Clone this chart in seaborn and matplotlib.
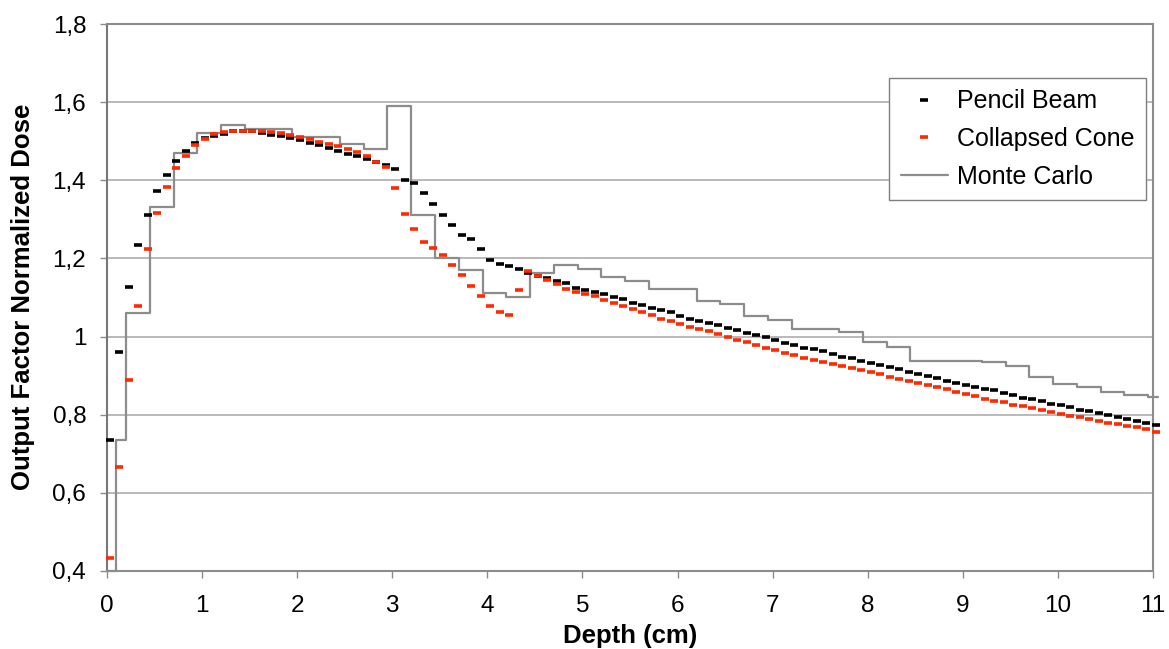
import numpy as np
import pandas as pd
import matplotlib
matplotlib.use("Agg")
import matplotlib.pyplot as plt
from matplotlib.ticker import FixedLocator, FuncFormatter
import seaborn as sns

# depth grid of the two calculated curves (cm), one point every mm
depth = np.round(0.03 + 0.1 * np.arange(111), 2)

pencil_beam = [
    0.735, 0.961, 1.126, 1.235, 1.310, 1.373, 1.413, 1.450, 1.476, 1.496,
    1.508, 1.514, 1.519, 1.525, 1.527, 1.525, 1.521, 1.516, 1.513, 1.507,
    1.502, 1.496, 1.490, 1.483, 1.476, 1.468, 1.462, 1.455, 1.448, 1.440,
    1.429, 1.402, 1.394, 1.367, 1.339, 1.312, 1.286, 1.259, 1.249, 1.223,
    1.197, 1.187, 1.180, 1.173, 1.162, 1.156, 1.149, 1.143, 1.137, 1.125,
    1.120, 1.114, 1.108, 1.101, 1.095, 1.086, 1.080, 1.074, 1.067, 1.062,
    1.053, 1.046, 1.041, 1.035, 1.029, 1.023, 1.016, 1.008, 1.003, 0.998,
    0.992, 0.984, 0.978, 0.972, 0.968, 0.962, 0.956, 0.948, 0.944, 0.938,
    0.933, 0.927, 0.921, 0.916, 0.910, 0.904, 0.899, 0.894, 0.887, 0.882,
    0.876, 0.871, 0.867, 0.862, 0.855, 0.850, 0.844, 0.840, 0.835, 0.828,
    0.824, 0.819, 0.813, 0.809, 0.804, 0.799, 0.794, 0.790, 0.785, 0.780,
    0.774,
]

collapsed_cone = [
    0.434, 0.667, 0.889, 1.079, 1.225, 1.316, 1.382, 1.432, 1.462, 1.491,
    1.505, 1.519, 1.523, 1.526, 1.527, 1.527, 1.526, 1.523, 1.520, 1.515,
    1.510, 1.505, 1.499, 1.493, 1.487, 1.480, 1.472, 1.462, 1.448, 1.433,
    1.379, 1.315, 1.275, 1.242, 1.226, 1.209, 1.183, 1.157, 1.130, 1.103,
    1.077, 1.063, 1.054, 1.120, 1.168, 1.156, 1.144, 1.135, 1.122, 1.113,
    1.108, 1.103, 1.094, 1.086, 1.078, 1.071, 1.063, 1.054, 1.046, 1.040,
    1.032, 1.025, 1.019, 1.013, 1.006, 1.000, 0.992, 0.986, 0.979, 0.970,
    0.965, 0.958, 0.952, 0.946, 0.940, 0.935, 0.930, 0.925, 0.919, 0.914,
    0.909, 0.903, 0.897, 0.892, 0.886, 0.881, 0.876, 0.870, 0.865, 0.859,
    0.853, 0.847, 0.841, 0.836, 0.832, 0.826, 0.822, 0.817, 0.813, 0.807,
    0.803, 0.797, 0.794, 0.790, 0.785, 0.780, 0.776, 0.772, 0.768, 0.764,
    0.757,
]

# Monte Carlo histogram: left bin edges and bin values (step curve)
mc_edges = [
    0.0, 0.1, 0.2, 0.45, 0.7, 0.95, 1.2, 1.45, 1.7, 1.95,
    2.2, 2.45, 2.7, 2.95, 3.2, 3.45, 3.7, 3.95, 4.2, 4.45,
    4.7, 4.95, 5.2, 5.45, 5.7, 5.95, 6.2, 6.45, 6.7, 6.95,
    7.2, 7.45, 7.7, 7.95, 8.2, 8.45, 8.7, 8.95, 9.2, 9.45,
    9.7, 9.95, 10.2, 10.45, 10.7, 10.95, 11.05,
]
mc_dose = [
    0.400, 0.735, 1.060, 1.331, 1.470, 1.521, 1.541, 1.532, 1.532, 1.512,
    1.512, 1.494, 1.481, 1.591, 1.311, 1.201, 1.171, 1.111, 1.101, 1.162,
    1.184, 1.172, 1.152, 1.142, 1.122, 1.122, 1.092, 1.083, 1.052, 1.043,
    1.020, 1.020, 1.011, 0.987, 0.974, 0.938, 0.938, 0.938, 0.936, 0.925,
    0.897, 0.878, 0.872, 0.857, 0.850, 0.846, 0.846,
]

x_ticks = list(range(0, 12))
y_ticks = [0.4, 0.6, 0.8, 1.0, 1.2, 1.4, 1.6, 1.8]

calc = pd.DataFrame({"depth": depth, "Pencil Beam": pencil_beam,
                     "Collapsed Cone": collapsed_cone})
mc = pd.DataFrame({"depth": mc_edges, "dose": mc_dose})

sns.set_theme(style="white")
plt.rcParams["font.family"] = ["Liberation Sans", "DejaVu Sans"]
plt.rcParams["text.color"] = "black"
plt.rcParams["axes.labelcolor"] = "black"

fig, ax = plt.subplots(figsize=(11.69, 6.49), dpi=100)
fig.subplots_adjust(left=0.0915, right=0.9863, top=0.963, bottom=0.1202)

ax.set_xlim(0, 11)
ax.set_ylim(0.4, 1.8)
ax.yaxis.set_major_locator(FixedLocator(y_ticks))
ax.xaxis.set_major_locator(FixedLocator(x_ticks))
ax.yaxis.set_major_formatter(FuncFormatter(lambda v, p: f"{v:g}".replace(".", ",")))
ax.grid(axis="y", color="#a6a6a6", linewidth=1.1, zorder=0)

dash = dict(estimator=None, linestyle="", marker="_", markersize=5.3,
            markeredgewidth=2.6, clip_on=False)
sns.lineplot(data=calc, x="depth", y="Pencil Beam", ax=ax, color="black",
             markeredgecolor="black", label="Pencil Beam", zorder=3, **dash)
sns.lineplot(data=calc, x="depth", y="Collapsed Cone", ax=ax, color="#ff2a00",
             markeredgecolor="#ff2a00", label="Collapsed Cone", zorder=4, **dash)
sns.lineplot(data=mc, x="depth", y="dose", ax=ax, estimator=None, sort=False,
             drawstyle="steps-post", color="#8c8c8c", linewidth=1.6,
             label="Monte Carlo", clip_on=False, zorder=2)

for side, sp in ax.spines.items():
    sp.set_visible(True)
    sp.set_color("#8c8c8c")
    sp.set_linewidth(1.5)
ax.spines["left"].set_color("#777777")

ax.tick_params(axis="both", which="major", direction="out", length=5,
               width=1.0, color="#8c8c8c", labelsize=17.5, labelcolor="black",
               bottom=True, left=True)
ax.tick_params(axis="x", pad=12)
ax.tick_params(axis="y", pad=10)

ax.set_xlabel("Depth (cm)", fontsize=18.5, fontweight="bold", va="center",
              color="black")
ax.set_ylabel("Output Factor Normalized Dose", fontsize=18.5,
              fontweight="bold", va="center", color="black")
ax.xaxis.set_label_coords(0.5, -0.119)
ax.yaxis.set_label_coords(-0.080, 0.501)

leg = ax.legend(loc="upper right", bbox_to_anchor=(0.993, 0.901),
                fontsize=18, frameon=True, fancybox=False, framealpha=1,
                edgecolor="#7f7f7f", borderpad=0.45, labelspacing=0.55,
                handlelength=1.9, handletextpad=0.35, borderaxespad=0)
leg.get_frame().set_linewidth(1.0)
for t in leg.get_texts():
    t.set_color("black")

fig.savefig("out.png", dpi=100)
